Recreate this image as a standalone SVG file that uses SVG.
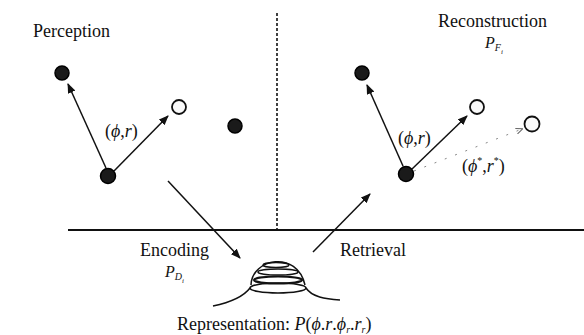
<svg xmlns="http://www.w3.org/2000/svg" width="584" height="335" viewBox="0 0 584 335">
<defs>
<marker id="ah" markerWidth="10" markerHeight="8" refX="9" refY="4" orient="auto" markerUnits="userSpaceOnUse">
<path d="M0,0 L10,4 L0,8 Z" fill="#111"/>
</marker>
<marker id="ahs" markerWidth="7" markerHeight="6" refX="6" refY="3" orient="auto" markerUnits="userSpaceOnUse">
<path d="M0,0 L7,3 L0,6" fill="none" stroke="#666" stroke-width="1"/>
</marker>
</defs>
<style>
text{font-family:"Liberation Serif","DejaVu Serif",serif;fill:#111}
.lbl{font-size:18px}
.it{font-style:italic}
.dark{fill:#1a1a1a;stroke:#000;stroke-width:1.5}
.light{fill:#fafafa;stroke:#111;stroke-width:1.8}
.arr{stroke:#111;stroke-width:1.5;fill:none;marker-end:url(#ah)}
.ln{stroke:#111;fill:none}
</style>
<rect width="584" height="335" fill="#fff"/>

<g id="connectors">
<line class="ln" x1="68" y1="230" x2="584" y2="230" stroke-width="1.8"/>
<line class="ln" x1="277" y1="13" x2="277" y2="229" stroke-width="1.6" stroke-dasharray="3,2"/>
<line class="arr" x1="106" y1="168" x2="68" y2="84"/>
<line class="arr" x1="114" y1="171" x2="168" y2="116"/>
<line class="arr" x1="168" y1="181" x2="240" y2="258"/>
<line class="arr" x1="313" y1="252" x2="370" y2="194"/>
<line class="arr" x1="403" y1="166" x2="367" y2="85"/>
<line class="arr" x1="412" y1="169" x2="467" y2="116"/>
<line x1="414" y1="171" x2="522" y2="129" stroke="#888" stroke-width="1" stroke-dasharray="2,9" fill="none" marker-end="url(#ahs)"/>
</g>

<g id="perception">
<text class="lbl" x="33" y="37">Perception</text>
</g>
<g id="reconstruction">
<text class="lbl" x="438" y="27">Reconstruction</text>
<text x="485" y="48" class="it" font-size="16">P<tspan font-size="10" dy="3">F</tspan><tspan font-size="7" dy="3">i</tspan></text>
</g>

<g id="left-dots">
<circle class="dark" cx="62" cy="73" r="7"/>
<circle class="light" cx="179" cy="107" r="7"/>
<circle class="dark" cx="235" cy="126" r="7"/>
<circle class="dark" cx="108" cy="176" r="7.5"/>
<text class="lbl" x="105" y="137">(<tspan class="it">ϕ</tspan>,<tspan class="it">r</tspan>)</text>
</g>

<g id="right-dots">
<circle class="dark" cx="362" cy="73" r="7"/>
<circle class="light" cx="477" cy="107" r="7"/>
<circle class="light" cx="532" cy="124" r="7.5"/>
<circle class="dark" cx="406" cy="174" r="7.5"/>
<text class="lbl" x="398" y="144">(<tspan class="it">ϕ</tspan>,<tspan class="it">r</tspan>)</text>
<text class="lbl" x="462" y="172">(<tspan class="it">ϕ</tspan><tspan font-size="10" dy="-8">*</tspan><tspan dy="8">,</tspan><tspan class="it">r</tspan><tspan font-size="10" dy="-8">*</tspan><tspan dy="8">)</tspan></text>
</g>

<g id="encoding">
<text class="lbl" x="140" y="256">Encoding</text>
<text x="165" y="277" class="it" font-size="16">P<tspan font-size="10" dy="3">D</tspan><tspan font-size="7" dy="3">i</tspan></text>
</g>
<g id="retrieval">
<text class="lbl" x="340" y="256">Retrieval</text>
</g>

<g id="representation">
<path class="ln" stroke-width="1.5" d="M213,306 C232,302 244,296 250,288"/>
<path class="ln" stroke-width="1.5" d="M306,288 C312,297 325,299 340,300"/>
<ellipse class="ln" stroke-width="1.6" cx="278" cy="288" rx="28" ry="5"/>
<ellipse class="ln" stroke-width="2.2" cx="278" cy="280" rx="24" ry="3.5"/>
<ellipse class="ln" stroke-width="1.5" cx="278" cy="272" rx="20" ry="3"/>
<ellipse class="ln" stroke-width="1.4" cx="276" cy="265" rx="13" ry="2.5"/>
<path class="ln" stroke-width="1.5" d="M251,285 C252,258 297,250 305,285"/>
<text class="lbl" x="177" y="330">Representation: <tspan class="it">P</tspan>(<tspan class="it">ϕ</tspan>.<tspan class="it">r</tspan>.<tspan class="it">ϕ</tspan><tspan class="it" font-size="10" dy="3">r</tspan><tspan dy="-3">.</tspan><tspan class="it">r</tspan><tspan class="it" font-size="10" dy="3">r</tspan><tspan dy="-3">)</tspan></text>
</g>
</svg>
